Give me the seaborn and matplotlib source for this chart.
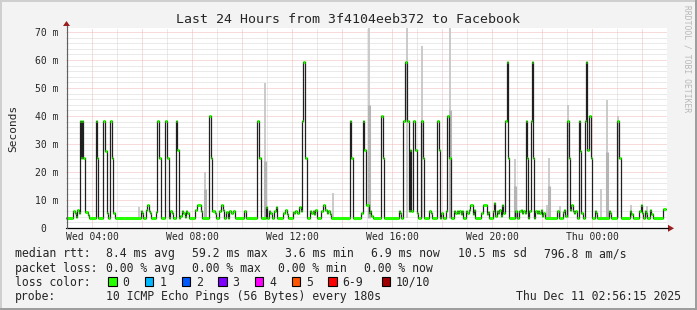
import matplotlib
matplotlib.use("Agg")
import matplotlib.pyplot as plt
from matplotlib.lines import Line2D
from matplotlib.patches import Polygon, Rectangle
import seaborn as sns
import pandas as pd

# ---------------- data ----------------
# median RTT step series: hour (Wed 00:00 = 0) at which each value starts, value in ms
change_hour = [2.95, 3.23, 3.31, 3.35, 3.40, 3.47, 3.51, 3.55, 3.58, 3.64, 3.72, 3.83, 3.88,
               4.15, 4.20, 4.24, 4.44, 4.52, 4.58, 4.63, 4.71, 4.79, 4.84, 4.90,
               5.94, 5.99, 6.04, 6.15, 6.20, 6.26, 6.31, 6.36, 6.55, 6.60, 6.68, 6.74,
               6.90, 7.00, 7.06, 7.11, 7.19, 7.24, 7.35, 7.40, 7.46, 7.51, 7.59, 7.64, 7.70, 7.75, 7.80, 7.86,
               8.12, 8.18, 8.34, 8.39, 8.66, 8.75, 8.79, 8.90, 8.95, 9.06, 9.14, 9.22, 9.27, 9.35, 9.43, 9.48, 9.56, 9.62, 9.70,
               10.07, 10.15, 10.60, 10.68, 10.74,
               10.95, 11.00, 11.06, 11.11, 11.19, 11.27, 11.35, 11.40, 11.62, 11.70, 11.78, 11.83,
               12.02, 12.07, 12.12, 12.20, 12.26, 12.34, 12.39, 12.44, 12.52, 12.58,
               12.71, 12.76, 12.82, 12.87, 12.92, 12.98, 13.16, 13.24, 13.32, 13.38, 13.43, 13.51, 13.56,
               14.31, 14.36, 14.42, 14.76, 14.82, 14.87, 14.95, 15.06, 15.11, 15.16, 15.24,
               15.56, 15.62, 15.67, 16.26, 16.31, 16.36, 16.44, 16.52, 16.60, 16.66, 16.71, 16.76, 16.82, 16.91, 16.98, 17.03,
               17.16, 17.22, 17.27, 17.48, 17.54, 17.59, 17.78, 17.86, 17.91, 17.96, 18.02, 18.15, 18.20, 18.28, 18.34,
               18.47, 18.52, 18.58, 18.63, 18.68, 18.74, 18.79, 18.84,
               18.95, 19.00, 19.06, 19.11, 19.22, 19.27, 19.32, 19.54, 19.62, 19.78, 19.83, 19.88,
               20.02, 20.07, 20.12, 20.18, 20.23, 20.28, 20.34, 20.39, 20.44, 20.52, 20.58, 20.63, 20.68,
               20.92, 21.00, 21.08, 21.14, 21.19, 21.24, 21.30, 21.35, 21.40, 21.43, 21.48, 21.54, 21.59, 21.64, 21.67,
               21.72, 21.78, 21.83, 21.88, 21.94, 21.99, 22.04, 22.10,
               22.60, 22.68, 22.82, 22.87, 22.92, 22.98, 23.06, 23.11, 23.16, 23.22, 23.27, 23.32, 23.38,
               23.46, 23.51, 23.56, 23.62, 23.70, 23.75, 23.80, 23.86, 23.94, 23.99,
               24.10, 24.15, 24.20, 24.66, 24.71, 24.76, 25.00, 25.08, 25.14,
               25.51, 25.56, 25.62, 25.88, 25.94, 25.99, 26.04, 26.10, 26.15, 26.20, 26.31, 26.36, 26.42, 26.84]
median_ms = [3.6, 6.2, 5.2, 3.9, 6.4, 5.5, 38.3, 25.1, 38.3, 25.1, 5.8, 4.8, 3.6,
             38.3, 25.1, 3.6, 38.3, 27.5, 5.5, 3.6, 38.3, 25.1, 5.5, 3.6,
             6.2, 5.5, 3.6, 6.4, 8.1, 6.2, 5.5, 3.6, 5.8, 38.3, 25.1, 3.6,
             38.3, 25.1, 3.6, 6.0, 5.5, 3.6, 38.3, 27.9, 3.6, 4.3, 6.2, 5.5, 4.0, 6.2, 5.2, 3.6,
             6.4, 8.1, 6.2, 3.6, 40.1, 25.1, 6.2, 5.2, 3.6, 6.0, 8.1, 6.4, 3.6, 5.8, 3.6, 6.2, 5.5, 6.2, 3.6,
             6.2, 3.6, 38.3, 25.1, 3.6,
             7.6, 3.6, 6.2, 5.2, 3.6, 6.0, 7.6, 3.6, 5.5, 6.4, 5.0, 3.6,
             5.8, 5.2, 6.2, 5.5, 7.6, 6.2, 38.3, 59.4, 25.1, 3.6,
             6.2, 5.2, 6.2, 5.0, 6.4, 3.6, 6.0, 8.1, 6.4, 5.5, 6.2, 5.0, 3.6,
             38.3, 25.1, 3.6, 5.5, 38.3, 27.9, 8.1, 5.5, 6.2, 4.3, 3.6,
             40.1, 25.1, 3.6, 6.0, 5.2, 3.6, 38.3, 59.4, 38.3, 6.2, 27.9, 6.0, 38.3, 27.9, 5.5, 3.6,
             38.3, 25.1, 3.6, 6.2, 5.2, 3.6, 38.3, 27.9, 3.6, 5.5, 3.6, 6.2, 40.1, 25.1, 3.6,
             6.2, 5.2, 6.0, 5.2, 6.0, 5.0, 6.2, 3.6,
             6.2, 5.5, 6.4, 8.1, 5.0, 6.4, 3.6, 5.5, 8.1, 5.0, 5.8, 3.6,
             6.0, 8.8, 4.3, 6.2, 5.2, 6.4, 4.3, 8.1, 5.5, 38.3, 59.4, 25.1, 3.6,
             6.2, 3.6, 6.0, 6.4, 5.2, 6.0, 5.5, 38.3, 25.1, 3.6, 6.2, 38.3, 59.4, 25.1, 3.6,
             6.2, 5.2, 6.0, 5.2, 6.4, 4.3, 5.5, 3.6,
             6.0, 3.6, 5.8, 6.4, 4.3, 38.3, 25.1, 6.4, 8.1, 6.2, 5.5, 6.2, 3.6,
             38.3, 27.5, 5.2, 3.6, 38.3, 59.4, 27.9, 40.1, 25.1, 3.6,
             6.2, 5.2, 3.6, 6.2, 5.2, 3.6, 38.3, 25.1, 3.6,
             6.2, 5.0, 3.6, 6.0, 8.1, 5.2, 3.6, 6.2, 5.5, 3.6, 6.4, 5.0, 3.6, 6.9]
end_hour = 26.94

# smoke (ping spread): hour, top of spread (ms), top of denser core (ms, 0 = none)
smoke_hour = [5.87, 8.49, 10.89, 13.61, 15.07, 16.59, 17.17, 18.29, 20.89, 22.18,
              22.27, 22.71, 23.01, 24.35, 24.59, 25.03, 25.55, 26.19]
smoke_top_ms = [7.6, 20.1, 51.7, 12.5, 75.0, 75.0, 64.8, 75.0, 24.6, 8.2,
                25.0, 7.8, 44.0, 14.0, 45.7, 40.0, 8.2, 7.8]
smoke_core_ms = [0, 14.0, 24.0, 0, 44.0, 0, 0, 42.0, 15.0, 0,
                 15.0, 0, 0, 0, 27.0, 0, 0, 0]
smoke_floor_ms = 3.4

# axis ticks / labels
y_ticks = [0, 10, 20, 30, 40, 50, 60, 70]
y_tick_labels = ["0  ", "10 m", "20 m", "30 m", "40 m", "50 m", "60 m", "70 m"]
x_ticks = [4, 8, 12, 16, 20, 24]
x_tick_labels = ["Wed 04:00", "Wed 08:00", "Wed 12:00", "Wed 16:00", "Wed 20:00", "Thu 00:00"]

title = "Last 24 Hours from 3f4104eeb372 to Facebook"
rtt_stats = ["8.4 ms avg", "59.2 ms max", "3.6 ms min", "6.9 ms now", "10.5 ms sd", "796.8 m am/s"]
loss_stats = ["0.00 % avg", "0.00 % max", "0.00 % min", "0.00 % now"]
loss_labels = ["0", "1", "2", "3", "4", "5", "6-9", "10/10"]
loss_colors = ["#26ff00", "#00b8ff", "#0059ff", "#7e00ff", "#ff00ff", "#ff5500", "#ff0000", "#a10000"]
probe_text = "10 ICMP Echo Pings (56 Bytes) every 180s"
stamp_text = "Thu Dec 11 02:56:15 2025"

# ---------------- drawing ----------------
W, H = 697, 310
sns.set_theme(style="white")
plt.rcParams['font.family'] = ['DejaVu Sans Mono', 'DejaVu Sans']
MONO = ['DejaVu Sans Mono', 'DejaVu Sans']


def fx(x):
    return x / W


def fy(y):
    return 1 - y / H


fig = plt.figure(figsize=(W / 100, H / 100), dpi=100)
fig.patch.set_facecolor('#f3f3f3')

# 3D frame
fig.add_artist(Rectangle((0, fy(2)), 1, 2 / H, transform=fig.transFigure, color='#cfcfcf', lw=0))
fig.add_artist(Rectangle((0, 0), 2 / W, 1, transform=fig.transFigure, color='#cfcfcf', lw=0))
fig.add_artist(Rectangle((0, 0), 1, 2 / H, transform=fig.transFigure, color='#9e9e9e', lw=0))
fig.add_artist(Rectangle((1 - 2 / W, 0), 2 / W, 1, transform=fig.transFigure, color='#9e9e9e', lw=0))

ax = fig.add_axes([fx(66), fy(228), 601 / W, 200 / H])
ax.set_facecolor('white')
x0 = 2.948
ax.set_xlim(x0, x0 + 601 / 25)
ax.set_ylim(0, 71.4)
for s in ax.spines.values():
    s.set_visible(False)

# grid
for h in range(3, 27):
    col = '#f3b8b8' if h % 2 == 0 else '#d6d6d6'
    ax.axvline(h, color=col, lw=0.72, ls=(0, (1, 1)), zorder=1)
for v in range(2, 72, 2):
    col = '#f3b8b8' if v % 10 == 0 else '#d6d6d6'
    ax.axhline(v, color=col, lw=0.72, ls=(0, (1, 1)), zorder=1)

# smoke
ax.vlines(smoke_hour, smoke_floor_ms, smoke_top_ms, color='#c6c6c6', lw=1.3, zorder=2)
core_h = [h for h, c in zip(smoke_hour, smoke_core_ms) if c > 0]
core_v = [c for c in smoke_core_ms if c > 0]
ax.vlines(core_h, smoke_floor_ms, core_v, color='#b4b4b4', lw=2.2, zorder=2)

# median line (black steps) + loss colored ticks
df = pd.DataFrame({"hour": change_hour + [end_hour], "ms": median_ms + [median_ms[-1]]})
sns.lineplot(data=df, x="hour", y="ms", drawstyle='steps-post', color='#202020', lw=0.9,
             estimator=None, sort=False, ax=ax, legend=False, zorder=3)
ends = change_hour[1:] + [end_hour]
ax.hlines(median_ms, change_hour, ends, color=loss_colors[0], lw=2.2, zorder=4)

ax.set_xlabel("")
ax.set_ylabel("")
ax.set_xticks(x_ticks)
ax.set_xticklabels(x_tick_labels, fontsize=7, family=MONO)
ax.set_yticks(y_ticks)
ax.set_yticklabels(y_tick_labels, fontsize=7, family=MONO)
ax.tick_params(axis='x', length=0, pad=3)
ax.tick_params(axis='y', length=0, pad=5.2)

# axes lines with arrows
fig.add_artist(Line2D([fx(66), fx(668)], [fy(228.3), fy(228.3)], transform=fig.transFigure,
                      color='black', lw=0.9))
fig.add_artist(Polygon([[fx(668), fy(224.8)], [fx(668), fy(231.8)], [fx(674), fy(228.3)]],
                       closed=True, transform=fig.transFigure, color='#9a1c1c', lw=0))
fig.add_artist(Line2D([fx(66.5), fx(66.5)], [fy(228.3), fy(26)], transform=fig.transFigure,
                      color='#606060', lw=0.9))
fig.add_artist(Polygon([[fx(63), fy(26)], [fx(70), fy(26)], [fx(66.5), fy(21)]],
                       closed=True, transform=fig.transFigure, color='#9a1c1c', lw=0))

# texts
fig.text(fx(348), fy(23.3), title, ha='center', va='baseline', fontsize=9.5, family=MONO)
fig.text(fx(13.5), fy(128), "Seconds", rotation=90, ha='center', va='center', fontsize=8, family=MONO)
fig.text(fx(687.5), fy(5), "RRDTOOL / TOBI OETIKER", rotation=270, ha='center', va='top',
         fontsize=5.8, family=MONO, color='#b8b8b8')

LF = 8.3
rows_y = [257.3, 271.7, 285.7, 300.0]
fig.text(fx(15), fy(rows_y[0]), "median rtt:", fontsize=LF, family=MONO, va='baseline')
for xp, s in zip([106.5, 192.5, 285.2, 371.0, 458.2, 543.5], rtt_stats):
    fig.text(fx(xp), fy(rows_y[0]), s, fontsize=LF, family=MONO, va='baseline')
fig.text(fx(15), fy(rows_y[1]), "packet loss:", fontsize=LF, family=MONO, va='baseline')
for xp, s in zip([106.5, 192.5, 278.5, 364.2], loss_stats):
    fig.text(fx(xp), fy(rows_y[1]), s, fontsize=LF, family=MONO, va='baseline')
fig.text(fx(15), fy(rows_y[2]), "loss color:", fontsize=LF, family=MONO, va='baseline')
box_x = [108.3, 145.0, 181.7, 218.3, 255.0, 291.7, 328.3, 381.7]
lab_x = [122.5, 159.2, 195.9, 232.5, 269.2, 305.9, 342.5, 395.9]
for bx, lx, c, lab in zip(box_x, lab_x, loss_colors, loss_labels):
    fig.add_artist(Rectangle((fx(bx), fy(285.5)), 8.3 / W, 8.3 / H, transform=fig.transFigure,
                             facecolor=c, edgecolor='black', lw=0.8))
    fig.text(fx(lx), fy(rows_y[2]), lab, fontsize=LF, family=MONO, va='baseline')
fig.text(fx(15), fy(rows_y[3]), "probe:", fontsize=LF, family=MONO, va='baseline')
fig.text(fx(106.5), fy(rows_y[3]), probe_text, fontsize=LF, family=MONO, va='baseline')
fig.text(fx(680.5), fy(rows_y[3]), stamp_text, fontsize=LF, family=MONO, va='baseline', ha='right')

fig.savefig("out.png", dpi=100, facecolor=fig.get_facecolor())
